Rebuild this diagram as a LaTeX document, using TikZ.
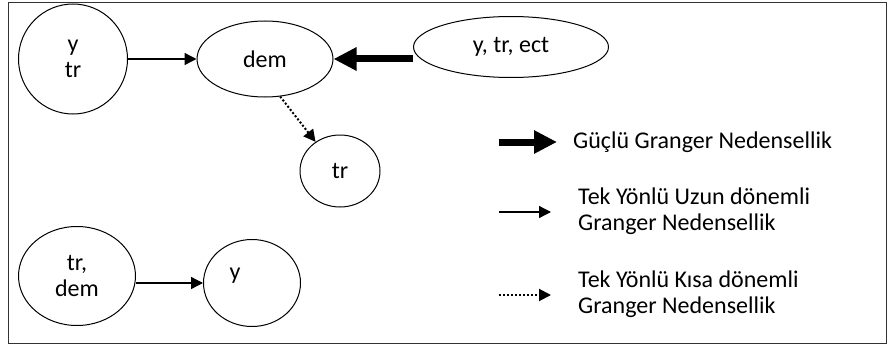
\documentclass[tikz,border=0pt]{standalone}
\usepackage{fontspec}
\setmainfont{Carlito}
\usetikzlibrary{positioning,arrows.meta,shapes.geometric}

\begin{document}
\begin{tikzpicture}[x=1pt, y=-1pt,
    every node/.style = {font=\fontsize{24}{26}\selectfont, align=center},
    var/.style = {draw, ellipse, line width=1pt, inner sep=0pt},
    long/.style = {draw, line width=1.3pt, -{Triangle[length=12pt,width=12pt]}},
    short/.style = {draw, line width=2pt, dash pattern=on 2pt off 2pt,
      -{Triangle[length=12pt,width=12pt]}},
    strong/.style = {draw, line width=7pt, -{Triangle[length=23pt,width=22pt]}},
    legend/.style = {anchor=west, align=left, inner sep=0pt}]
  \useasboundingbox (0,0) rectangle (888,345);
  \draw [line width=1pt, black!80] (8,3) rectangle (886,343);
  % variables
  \node (ytr) [var, minimum width=109, minimum height=110] at (73,59) {y\\tr};
  \node (dem) [var, minimum width=136, minimum height=76] at (265,59) {dem};
  \node (ect) [var, minimum width=195, minimum height=61] at (511,47) {y, tr, ect};
  \node (trb) [var, minimum width=80, minimum height=72] at (340,171) {tr};
  \node (trdem) [var, minimum width=117, minimum height=99] at (77,276) {tr,\\dem};
  \node (ydep) [var, minimum width=97, minimum height=87] at (252,283) {};
  \node at ([shift={(-17,-7)}]ydep.center) {y};
  % causality
  \draw [long] (ytr.east) -- (dem.west);
  \draw [strong] (ect.west |- dem.east) -- (dem.east);
  \draw [short] (dem.-68) -- (trb.130);
  \draw [long] (trdem.east |- ydep) -- (ydep.west);
  % legend
  \coordinate (s1) at (499,142); \coordinate (s2) at (557,142);
  \coordinate (l1) at (499,212); \coordinate (l2) at (551,212);
  \coordinate (k1) at (499,295); \coordinate (k2) at (551,295);
  \draw [strong] (s1) -- (s2);
  \draw [long] (l1) -- (l2);
  \draw [short] (k1) -- (k2);
  \node (stxt) [legend] at (573,142) {Güçlü Granger Nedensellik};
  \node (ltxt) [legend] at (578,211) {Tek Yönlü Uzun dönemli\\Granger Nedensellik};
  \node (ktxt) [legend] at (578,294) {Tek Yönlü Kısa dönemli\\Granger Nedensellik};
\end{tikzpicture}
\end{document}
